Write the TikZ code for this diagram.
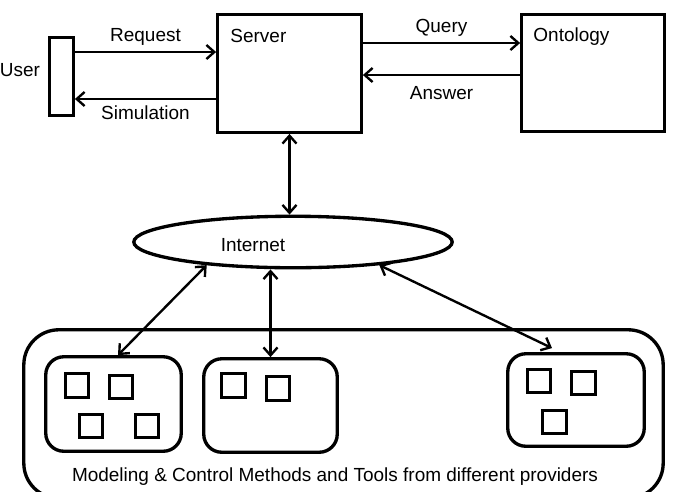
\documentclass[tikz,border=0pt]{standalone}
\usepackage{fontspec}
\setmainfont{Liberation Sans}
\usetikzlibrary{shapes.geometric,arrows.meta}

\begin{document}
\begin{tikzpicture}[
    x=0.02cm, y=-0.02cm,
    font=\fontsize{10.8}{13}\selectfont,
    >={Straight Barb[length=4.5pt,width=8pt]},
    box/.style={draw,line width=1.9pt,inner sep=0pt},
    group/.style={box,rounded corners=0.36cm},
    tool/.style={box,minimum size=0.47cm},
    link/.style={line width=1.35pt}
  ]
    \useasboundingbox (0,0) rectangle (676,491);
    \clip (0,0) rectangle (676,491);

    % top row
    \node[box, minimum width=0.47cm, minimum height=1.55cm,
      label={[shift={(-2,-6.5)}]left:User}] (user) at (61.5,76.5) {};
    \node[box, minimum width=2.87cm, minimum height=2.35cm,
      label={[anchor=north west,inner sep=0pt,shift={(14,16)}]north west:Server}] (server) at (289.5,73.5) {};
    \node[box, minimum width=2.85cm, minimum height=2.33cm,
      label={[anchor=north west,inner sep=0pt,shift={(13,14)}]north west:Ontology}] (ontology) at (593,73) {};

    \coordinate (req) at ([shift={(0,-24.5)}]user.east);
    \coordinate (sim) at ([shift={(0,22.5)}]user.east);
    \coordinate (qry) at ([shift={(0,-30.5)}]server.east);
    \coordinate (ans) at ([shift={(0,1.5)}]server.east);
    \draw[link,->] (req) -- (req -| server.west) node[midway,above] {Request};
    \draw[link,->] (sim -| server.west) -- (sim) node[midway,below] {Simulation};
    \draw[link,->] (qry) -- (qry -| ontology.west) node[midway,above] {Query};
    \draw[link,->] (ans -| ontology.west) -- (ans) node[midway,below=2.3pt] {Answer};

    % internet
    \node[ellipse, draw, line width=1.9pt, minimum width=6.37cm, minimum height=1.03cm,
      label={[shift={(-40,3.5)}]center:Internet}] (internet) at (293,242) {};
    \draw[link,<->] (server.south) -- (server.south |- internet.north);

    % providers
    \node[box, rounded corners=0.7cm, minimum width=12.79cm, minimum height=3.37cm,
      label={[anchor=base,shift={(-8.5,-18.5)}]south:Modeling \& Control Methods and Tools from different providers}] (providers) at (343.5,414) {};
    \node[group, minimum width=2.71cm, minimum height=1.89cm] (group1) at (113.5,404) {};
    \node[group, minimum width=2.67cm, minimum height=1.87cm] (group2) at (270.5,405.5) {};
    \node[group, minimum width=2.73cm, minimum height=1.85cm] (group3) at (576,400) {};

    \node[tool] (t1a) at (77,385.5) {};
    \node[tool] (t1b) at (121,387) {};
    \node[tool] (t1c) at (91,426) {};
    \node[tool] (t1d) at (147,426) {};
    \node[tool] (t2a) at (233.5,385.5) {};
    \node[tool] (t2b) at (278,388.5) {};
    \node[tool] (t3a) at (539,381) {};
    \node[tool] (t3b) at (583.5,383) {};
    \node[tool] (t3c) at (554.5,422) {};

    \draw[link,<->] (internet.195) -- ([shift={(4.5,0)}]group1.north);
    \draw[link,<->] (internet.south -| group2.north) -- (group2.north);
    \draw[link,<->] (internet.345) -- ([shift={(-24,-4)}]group3.north);
  \end{tikzpicture}
\end{document}
